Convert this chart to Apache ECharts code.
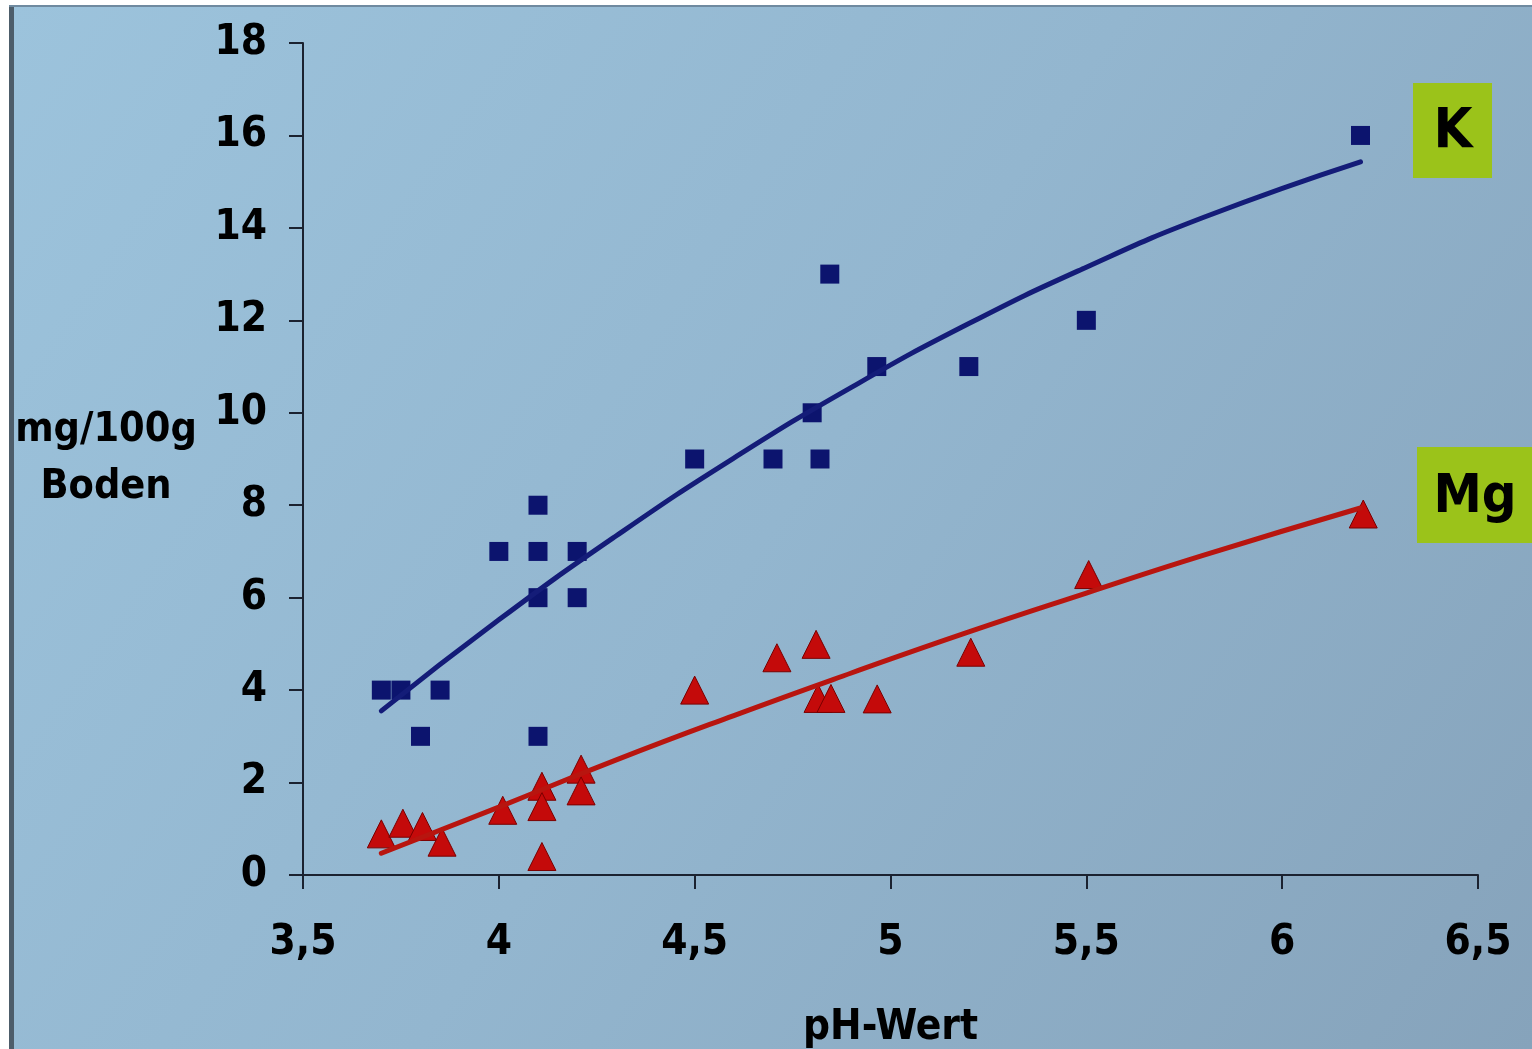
<!DOCTYPE html>
<html>
<head>
<meta charset="utf-8">
<script src="https://cdn.jsdelivr.net/npm/echarts@6/dist/echarts.min.js"></script>
<style>
html,body{margin:0;padding:0;background:#fff;overflow:hidden;}
#chart{width:1532px;height:1049px;}
</style>
</head>
<body>
<div id="chart"></div>
<script>
// K (Kalium) measurements
const kPH  = [3.7, 3.75, 3.8, 3.85, 4.0, 4.1, 4.1, 4.1, 4.1, 4.2, 4.2, 4.5, 4.7, 4.8, 4.82, 4.845, 4.965, 5.2, 5.5, 6.2];
const kVal = [4,   4,    3,   4,    7,   8,   7,   6,   3,   7,   6,   9,   9,   10,  9,    13,    11,    11,  12,  16];
// Mg (Magnesium) measurements
const mgPH  = [3.7, 3.755, 3.805, 3.855, 4.01, 4.11, 4.11, 4.11, 4.21, 4.21, 4.5, 4.71, 4.81, 4.815, 4.848, 4.966, 5.205, 5.506, 6.207];
const mgVal = [0.89, 1.12, 1.05, 0.71, 1.40, 1.92, 1.48, 0.40, 2.29, 1.82, 4.0, 4.70, 4.99, 3.82, 3.82, 3.81, 4.82, 6.50, 7.81];
// trend lines
const kTrendPH  = [3.7, 4.0, 4.3, 4.6, 4.9, 5.2, 5.5, 5.8, 6.2];
const kTrendVal = [3.55, 5.52, 7.34, 9.02, 10.55, 11.93, 13.15, 14.23, 15.43];
const mgTrendPH  = [3.7, 4.0, 4.3, 4.6, 4.9, 5.2, 5.5, 5.8, 6.2];
const mgTrendVal = [0.47, 1.47, 2.49, 3.45, 4.37, 5.26, 6.1, 6.92, 7.94];
// axis ticks
const xTicks = [3.5, 4, 4.5, 5, 5.5, 6, 6.5];
const yTicks = [0, 2, 4, 6, 8, 10, 12, 14, 16, 18];
const xName = 'pH-Wert';
const yName = 'mg/100g\nBoden';
const seriesNames = ['K', 'Mg'];

const zip = (a, b) => a.map((v, i) => [v, b[i]]);
const FONT = '"DejaVu Sans Condensed", "DejaVu Sans", sans-serif';

const chart = echarts.init(document.getElementById('chart'), null, {renderer: 'canvas'});
chart.setOption({
  animation: false,
  backgroundColor: '#ffffff',
  grid: {left: 303, right: 54, top: 43, bottom: 174, containLabel: false, outerBoundsMode: 'none'},
  graphic: [
    {type: 'rect', z: -10, silent: true, shape: {x: 10, y: 6, width: 1522, height: 1043},
      style: {fill: new echarts.graphic.LinearGradient(0, 0, 1, 1, [
        {offset: 0, color: '#9cc3dc'}, {offset: 0.5, color: '#93b6cf'}, {offset: 1, color: '#86a3bb'}])}},
    {type: 'rect', z: -9, silent: true, shape: {x: 9, y: 6, width: 5, height: 1043}, style: {fill: '#4d5d6a'}},
    {type: 'rect', z: -9, silent: true, shape: {x: 9, y: 5, width: 1523, height: 2}, style: {fill: '#6f8aa0'}},
    {type: 'rect', silent: true, shape: {x: 1413, y: 83, width: 79, height: 95}, style: {fill: '#9bc31a'}},
    {type: 'text', silent: true, x: 1453, y: 132, style: {text: seriesNames[0], font: 'bold 56px ' + FONT, fill: '#000', align: 'center', verticalAlign: 'middle'}},
    {type: 'rect', silent: true, shape: {x: 1417, y: 447, width: 115, height: 96}, style: {fill: '#9bc31a'}},
    {type: 'text', silent: true, x: 1475, y: 498, style: {text: seriesNames[1], font: 'bold 54px ' + FONT, fill: '#000', align: 'center', verticalAlign: 'middle'}},
    {type: 'text', silent: true, x: 106, y: 459, style: {text: yName, font: 'bold 41px ' + FONT, fill: '#000', align: 'center', verticalAlign: 'middle', lineHeight: 57}}
  ],
  xAxis: {
    type: 'value', min: 3.5, max: 6.5, interval: 0.5,
    name: xName, nameLocation: 'middle', nameGap: 132,
    nameTextStyle: {fontFamily: FONT, fontSize: 42, fontWeight: 'bold', color: '#000'},
    axisLine: {show: true, onZero: false, lineStyle: {color: '#1b2230', width: 2}},
    axisTick: {show: true, inside: false, length: 14, lineStyle: {color: '#1b2230', width: 2}},
    axisLabel: {margin: 47, fontFamily: FONT, fontSize: 42, fontWeight: 'bold', color: '#000',
      customValues: xTicks,
      formatter: v => String(v).replace('.', ',')},
    splitLine: {show: false}
  },
  yAxis: {
    type: 'value', min: 0, max: 18, interval: 2,
    axisLine: {show: true, lineStyle: {color: '#1b2230', width: 2}},
    axisTick: {show: true, inside: false, length: 14, lineStyle: {color: '#1b2230', width: 2}},
    axisLabel: {margin: 36, fontFamily: FONT, fontSize: 42, fontWeight: 'bold', color: '#000', customValues: yTicks},
    splitLine: {show: false}
  },
  series: [
    {name: seriesNames[0], type: 'scatter', data: zip(kPH, kVal), symbol: 'rect', symbolSize: 19,
      itemStyle: {color: '#0c146e', opacity: 1}, z: 2},
    {name: seriesNames[1], type: 'scatter', data: zip(mgPH, mgVal), symbol: 'triangle', symbolSize: [28, 28],
      itemStyle: {color: '#c40a0a', borderColor: '#7a0000', borderWidth: 1, opacity: 1}, z: 2},
    {name: seriesNames[0] + ' Trend', type: 'line', data: zip(kTrendPH, kTrendVal), smooth: true, showSymbol: false,
      lineStyle: {color: '#141c78', width: 5, cap: 'round'}, z: 3},
    {name: seriesNames[1] + ' Trend', type: 'line', data: zip(mgTrendPH, mgTrendVal), smooth: true, showSymbol: false,
      lineStyle: {color: '#b8150f', width: 5, cap: 'round'}, z: 3}
  ]
});
</script>
</body>
</html>
